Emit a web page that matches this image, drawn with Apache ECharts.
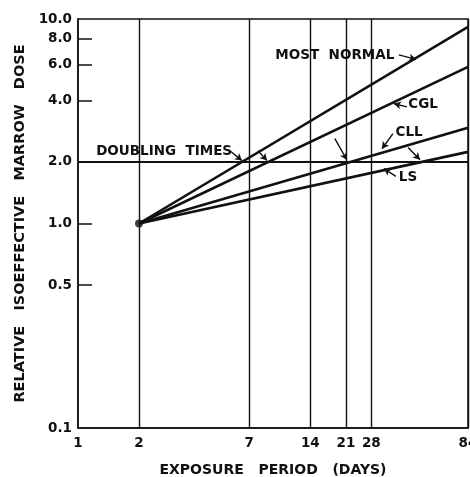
<!DOCTYPE html>
<html>
<head>
<meta charset="utf-8">
<script src="https://cdn.jsdelivr.net/npm/echarts@6/dist/echarts.min.js"></script>
<style>
html,body{margin:0;padding:0;background:#fff;}
#chart{width:470px;height:477px;}
</style>
</head>
<body>
<div id="chart"></div>
<script>
// ---- data ----
const xTicks = [1, 2, 7, 14, 21, 28, 84];
const yLabels = [0.1, 0.5, 1, 2, 4, 6, 8, 10];
const yTickMarks = [0.5, 1, 4, 6, 8];
const gridDays = [2, 7, 14, 21, 28, 84];
const doublingLevel = 2;
const startPoint = [2, 1];
const seriesNames = ['MOST NORMAL', 'CGL', 'CLL', 'LS'];
const endDay = 84;
const endValues = [9.14, 5.83, 2.94, 2.24];
const annotationTexts = ['MOST  NORMAL', 'CGL', 'CLL', 'LS', 'DOUBLING  TIMES'];
const annotationCoords = [[18.5, 6.6], [50.4, 3.81], [43.0, 2.78], [42.5, 1.68], [2.66, 2.24]];
const arrowStarts = [[38.3, 6.68], [42.0, 3.72], [35.8, 2.75], [37.0, 1.70], [5.62, 2.27], [7.73, 2.27], [18.5, 2.60], [42.5, 2.35]];
const arrowEnds   = [[46.5, 6.35], [36.2, 3.85], [31.6, 2.32], [32.3, 1.855], [6.44, 2.03], [8.56, 2.03], [21.2, 2.05], [48.7, 2.05]];

const FONT = 'DejaVu Sans';
const INK = '#111';

const chart = echarts.init(document.getElementById('chart'), null, {renderer: 'canvas'});

const lineSeries = seriesNames.map((n, i) => ({
  name: n,
  type: 'line',
  data: [startPoint, [endDay, endValues[i]]],
  showSymbol: false,
  symbol: 'none',
  lineStyle: {color: INK, width: 2.6},
  z: 5,
  silent: true
}));

const option = {
  animation: false,
  backgroundColor: '#fff',
  grid: {left: 78, right: 2, top: 19, bottom: 49, show: true, borderColor: INK, borderWidth: 1.5,
    backgroundColor: 'transparent', containLabel: false, outerBoundsMode: 'none'},
  xAxis: {
    type: 'log', logBase: 10, min: 1, max: 84,
    name: 'EXPOSURE   PERIOD   (DAYS)', nameLocation: 'middle', nameGap: 35,
    nameTextStyle: {fontFamily: FONT, fontWeight: 'bold', fontSize: 14, color: INK},
    axisLine: {show: true, lineStyle: {color: INK, width: 1.5}},
    axisTick: {show: false},
    splitLine: {show: false},
    minorTick: {show: false},
    axisLabel: {customValues: xTicks, formatter: v => String(Math.round(v)), margin: 8, hideOverlap: false,
      fontFamily: FONT, fontWeight: 'bold', fontSize: 13.5, color: INK, showMinLabel: true, showMaxLabel: true}
  },
  yAxis: {
    type: 'log', logBase: 10, min: 0.1, max: 10,
    name: 'RELATIVE   ISOEFFECTIVE   MARROW   DOSE', nameLocation: 'middle', nameGap: 50, nameRotate: 90,
    nameTextStyle: {fontFamily: FONT, fontWeight: 'bold', fontSize: 14.5, color: INK},
    axisLine: {show: true, lineStyle: {color: INK, width: 1.5}},
    axisTick: {show: true, customValues: yTickMarks, inside: true, length: 14, lineStyle: {color: INK, width: 1.5}},
    splitLine: {show: false},
    axisLabel: {customValues: yLabels, margin: 6, hideOverlap: false,
      formatter: v => (v < 0.99 ? (Math.round(v * 10) / 10).toString() : v.toFixed(1)),
      fontFamily: FONT, fontWeight: 'bold', fontSize: 13.5, color: INK, showMinLabel: true, showMaxLabel: true}
  },
  series: [
    {
      name: 'grid', type: 'line', data: [], silent: true,
      markLine: {
        silent: true, symbol: ['none', 'none'], label: {show: false},
        lineStyle: {color: INK, width: 1.4, type: 'solid'},
        data: gridDays.map(d => ({xAxis: d})).concat([{yAxis: doublingLevel, lineStyle: {width: 2.2, color: INK}}])
      }
    },
    ...lineSeries,
    {
      name: 'start', type: 'scatter', data: [startPoint], symbol: 'circle', symbolSize: 8,
      itemStyle: {color: INK}, z: 6, silent: true
    },
    {
      name: 'annotations', type: 'scatter', symbolSize: 0, silent: true, z: 7,
      itemStyle: {color: INK, opacity: 1},
      data: annotationTexts.map((t, i) => ({name: t, value: annotationCoords[i]})),
      label: {show: true, position: 'inside', formatter: '{b}', fontFamily: FONT, fontWeight: 'bold', fontSize: 13.5,
        color: INK, opacity: 1, textBorderWidth: 0},
      markLine: {
        silent: true, symbol: ['none', 'arrow'], symbolSize: [6, 7], label: {show: false},
        lineStyle: {color: INK, width: 1.4, type: 'solid', curveness: 0.25},
        data: arrowStarts.map((s, i) => [{coord: s}, {coord: arrowEnds[i]}])
      }
    }
  ]
};
chart.setOption(option);
</script>
</body>
</html>
